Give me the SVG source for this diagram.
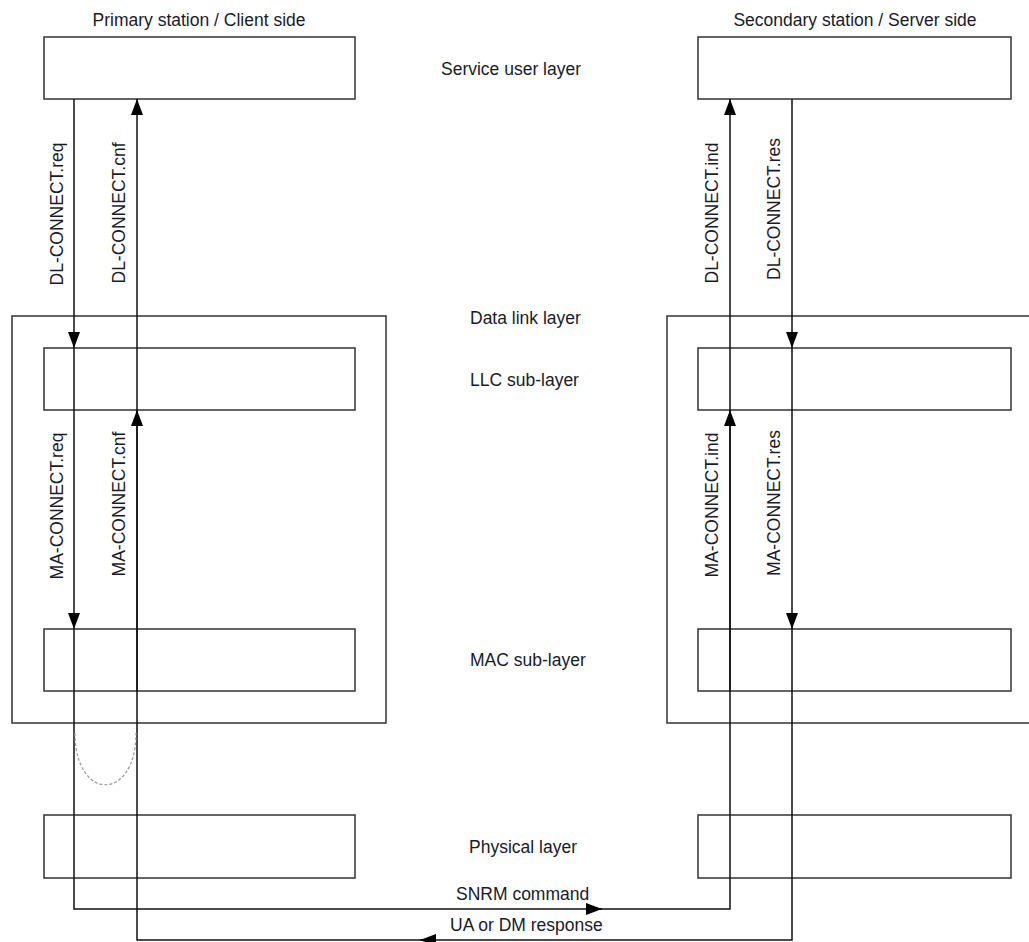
<svg xmlns="http://www.w3.org/2000/svg" width="1029" height="942" viewBox="0 0 1029 942">
<style>
.box{fill:none;stroke:#333;stroke-width:1.5}
.ln{fill:none;stroke:#111;stroke-width:1.5}
.t{font-family:"Liberation Sans",Arial,sans-serif;font-size:17.5px;fill:#1a1a2a}
.v{text-anchor:middle}
</style>
<defs>
<marker id="ah" markerWidth="16" markerHeight="12" refX="16" refY="6" orient="auto" markerUnits="userSpaceOnUse">
<path d="M0,0 L16,6 L0,12 Z" fill="#000"/>
</marker>
</defs>
<rect width="1029" height="942" fill="#fff"/>
<text class="t" x="199" y="26" text-anchor="middle">Primary station / Client side</text>
<text class="t" x="855" y="26" text-anchor="middle">Secondary station / Server side</text>
<g id="dl-left"><rect class="box" x="12" y="316" width="374" height="407"/></g>
<g id="dl-right"><rect class="box" x="667" y="316" width="400" height="407"/></g>
<g id="su-left"><rect class="box" x="44" y="37" width="311" height="62"/></g>
<g id="su-right"><rect class="box" x="698" y="37" width="313" height="62"/></g>
<g id="llc-left"><rect class="box" x="44" y="348" width="311" height="62"/></g>
<g id="llc-right"><rect class="box" x="698" y="348" width="313" height="62"/></g>
<g id="mac-left"><rect class="box" x="44" y="629" width="311" height="62"/></g>
<g id="mac-right"><rect class="box" x="698" y="629" width="313" height="62"/></g>
<g id="phy-left"><rect class="box" x="44" y="815" width="311" height="63"/></g>
<g id="phy-right"><rect class="box" x="698" y="815" width="313" height="63"/></g>
<g id="layer-labels">
<text class="t" x="441" y="75">Service user layer</text>
<text class="t" x="470" y="324">Data link layer</text>
<text class="t" x="470" y="386">LLC sub-layer</text>
<text class="t" x="470" y="666">MAC sub-layer</text>
<text class="t" x="469" y="853">Physical layer</text>
</g>
<g id="connectors">
<!-- req path -->
<line class="ln" x1="74" y1="99" x2="74" y2="348" marker-end="url(#ah)"/>
<line class="ln" x1="74" y1="348" x2="74" y2="629" marker-end="url(#ah)"/>
<polyline class="ln" points="74,629 74,909 602,909" marker-end="url(#ah)"/>
<polyline class="ln" points="600,909 730,909 730,410"/>
<line class="ln" x1="730" y1="691" x2="730" y2="410" marker-end="url(#ah)"/>
<line class="ln" x1="730" y1="410" x2="730" y2="99" marker-end="url(#ah)"/>
<!-- res path -->
<line class="ln" x1="792" y1="99" x2="792" y2="348" marker-end="url(#ah)"/>
<line class="ln" x1="792" y1="348" x2="792" y2="629" marker-end="url(#ah)"/>
<polyline class="ln" points="792,629 792,940 420,940" marker-end="url(#ah)"/>
<polyline class="ln" points="422,940 137,940 137,410"/>
<line class="ln" x1="137" y1="691" x2="137" y2="410" marker-end="url(#ah)"/>
<line class="ln" x1="137" y1="410" x2="137" y2="99" marker-end="url(#ah)"/>
<path d="M75,733 C75,802 136,802 136,733" fill="none" stroke="#999" stroke-width="1.2" stroke-dasharray="3,2"/>
</g>
<g id="primitive-labels">
<text class="t v" transform="translate(63,214) rotate(-90)">DL-CONNECT.req</text>
<text class="t v" transform="translate(125,213) rotate(-90)">DL-CONNECT.cnf</text>
<text class="t v" transform="translate(718,213) rotate(-90)">DL-CONNECT.ind</text>
<text class="t v" transform="translate(780,209) rotate(-90)">DL-CONNECT.res</text>
<text class="t v" transform="translate(63,506) rotate(-90)">MA-CONNECT.req</text>
<text class="t v" transform="translate(125,504) rotate(-90)">MA-CONNECT.cnf</text>
<text class="t v" transform="translate(718,505) rotate(-90)">MA-CONNECT.ind</text>
<text class="t v" transform="translate(780,503) rotate(-90)">MA-CONNECT.res</text>
<text class="t" x="456" y="900">SNRM command</text>
<text class="t" x="450" y="931">UA or DM response</text>
</g>
</svg>
